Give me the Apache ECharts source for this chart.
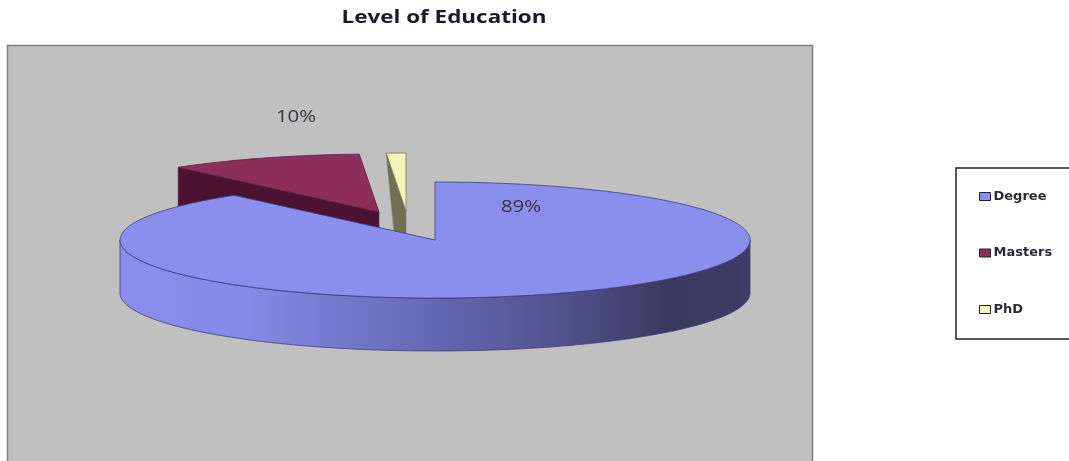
<!DOCTYPE html>
<html>
<head>
<meta charset="utf-8">
<style>html,body{margin:0;background:#fff}#chart{width:1069px;height:461px}</style>
<script src="https://cdn.jsdelivr.net/npm/echarts@6/dist/echarts.min.js"></script>
</head>
<body>
<div id="chart"></div>
<script>
// Level of Education: share of respondents per highest degree
const categories = ['Degree', 'Masters', 'PhD'];
const shares = [89, 10, 1];
const shownLabels = [true, true, false];
const chartTitle = 'Level of Education';

// Colours per slice
const topColors = ['#8a8eec', '#8e2f5b', '#f6f3b9'];
const sideColors = ['#8a8eec', '#4b1232', '#6f6f52'];
const edgeColors = ['#3a3c80', '#5a1f3f', '#77776a'];

// Projection of the pie disc
const disc = { cx: 435, cy: 240, rx: 315, ry: 58, depth: 53 };
// Pull-out of each slice from the disc centre, foot shift of its cut face, label anchor
const pull = [[0, 0], [-56, -28], [-29, -29]];
const footShift = [[0, 0], [0, 0], [11, 58]];
const labelAt = [[521, 207], [296, 117], [0, 0]];

function sliceAngles(i) {
  const total = shares.reduce((a, b) => a + b, 0);
  const before = shares.slice(0, i).reduce((a, b) => a + b, 0);
  return [before / total * 2 * Math.PI, (before + shares[i]) / total * 2 * Math.PI];
}

function rimPoint(angle, ox, oy, drop) {
  return [
    disc.cx + ox + disc.rx * Math.sin(angle),
    disc.cy + oy - disc.ry * Math.cos(angle) + drop
  ];
}

function arc(from, to, ox, oy, drop) {
  const pts = [];
  const steps = Math.max(4, Math.ceil(Math.abs(to - from) / 0.01));
  for (let s = 0; s <= steps; s++) {
    pts.push(rimPoint(from + (to - from) * s / steps, ox, oy, drop));
  }
  return pts;
}

function renderSlice(i) {
  const [a0, a1] = sliceAngles(i);
  const [ox, oy] = pull[i];
  const apex = [disc.cx + ox, disc.cy + oy];
  const children = [];

  if (i === 0) {
    // Front wall of the disc, shaded from lit left to dark right
    const wallFrom = Math.PI / 2;
    const wallTo = 3 * Math.PI / 2;
    children.push({
      type: 'polygon',
      shape: { points: arc(wallFrom, wallTo, ox, oy, 0).concat(arc(wallTo, wallFrom, ox, oy, disc.depth)) },
      style: {
        fill: new echarts.graphic.LinearGradient(0, 0, 1, 0, [
          { offset: 0, color: '#8a8eec' },
          { offset: 0.2, color: '#858ae6' },
          { offset: 0.5, color: '#6467b2' },
          { offset: 0.72, color: '#4f5088' },
          { offset: 0.87, color: '#39395f' },
          { offset: 1, color: '#3c3d68' }
        ]),
        stroke: edgeColors[0],
        lineWidth: 0.8
      }
    });
  } else {
    // Cut face along the slice's leading radius
    const rim = rimPoint(a0, ox, oy, 0);
    children.push({
      type: 'polygon',
      shape: {
        points: [
          rim, apex,
          [apex[0], apex[1] + disc.depth],
          [rim[0] + footShift[i][0], rim[1] + disc.depth + footShift[i][1]]
        ]
      },
      style: { fill: sideColors[i], stroke: edgeColors[i], lineWidth: 0.6 }
    });
  }

  // Top face
  children.push({
    type: 'polygon',
    shape: { points: [apex].concat(arc(a0, a1, ox, oy, 0)) },
    style: { fill: topColors[i], stroke: edgeColors[i], lineWidth: 0.8 }
  });

  if (shownLabels[i]) {
    children.push({
      type: 'text',
      z2: 10,
      x: labelAt[i][0],
      y: labelAt[i][1],
      scaleX: 1.2,
      style: {
        text: shares[i] + '%',
        align: 'center',
        verticalAlign: 'middle',
        fill: '#3c3340',
        font: '17px "Open Sans", sans-serif'
      }
    });
  }
  return { type: 'group', children };
}

// Slices are painted back to front so the disc overlaps the pulled-out pieces
const paintOrder = [1, 2, 0];

const chart = echarts.init(document.getElementById('chart'), null, { renderer: 'canvas' });
chart.setOption({
  animation: false,
  backgroundColor: '#ffffff',
  graphic: [{
    type: 'rect',
    z: 0,
    shape: { x: 7.5, y: 45.5, width: 805, height: 430 },
    style: { fill: '#c0c0c0', stroke: '#808080', lineWidth: 1.5 }
  }, {
    // Heading, set wide across the top of the sheet
    type: 'text',
    z: 5,
    x: 444,
    y: 18,
    scaleX: 1.32,
    style: {
      text: chartTitle,
      align: 'center',
      verticalAlign: 'middle',
      fill: '#1a1a2a',
      font: 'bold 17px "Open Sans"'
    }
  }],
  legend: {
    orient: 'vertical',
    left: 956,
    top: 168,
    padding: [22, 60, 23, 23],
    itemWidth: 11,
    itemHeight: 8,
    itemGap: 43.5,
    backgroundColor: '#ffffff',
    borderColor: '#222222',
    borderWidth: 1.5,
    borderRadius: 0,
    selectedMode: false,
    textStyle: { fontFamily: 'DejaVu Sans', fontSize: 13, fontWeight: 'bold', color: '#2a2a3a', padding: [0, 0, 0, -2] },
    data: categories.map((name, i) => ({
      name,
      icon: 'rect',
      itemStyle: { color: topColors[i], borderColor: '#222222', borderWidth: 1 }
    }))
  },
  series: paintOrder.map(i => ({
    type: 'custom',
    name: categories[i],
    coordinateSystem: 'none',
    silent: true,
    itemStyle: { color: topColors[i] },
    data: [shares[i]],
    renderItem: () => renderSlice(i)
  }))
});
</script>
</body>
</html>
